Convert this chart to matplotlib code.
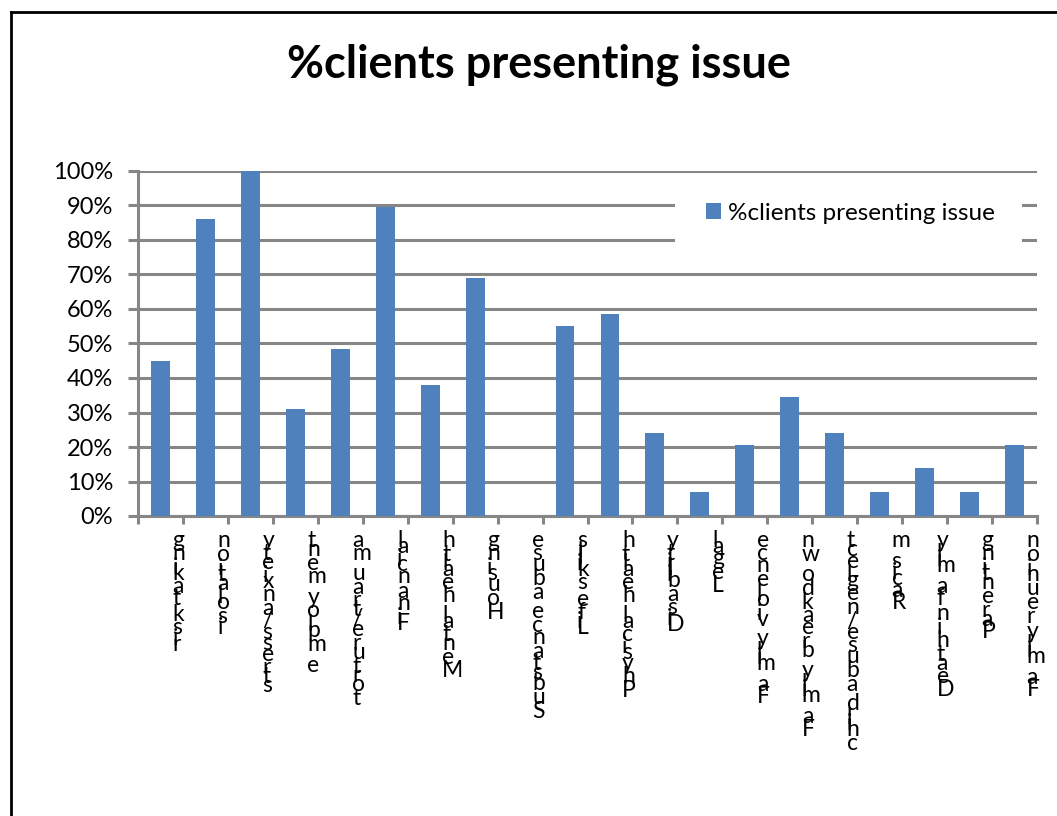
import numpy as np
import matplotlib
matplotlib.use("Agg")
import matplotlib.pyplot as plt
from matplotlib.patches import Rectangle
from matplotlib.font_manager import FontProperties, findfont, get_font

# data
issues = ["risk taking", "isolation", "stress/anxiety", "employment",
          "torture/trauma", "Financial", "Mental health", "Housing",
          "Substance abuse", "Life skills", "Physical health", "Disability",
          "Legal", "Family violence", "Family breakdown",
          "child abuse/neglect", "Racism", "Death in family", "Parenting",
          "Family reunion"]
pct_clients = [0.448, 0.862, 1.0, 0.310, 0.483, 0.897, 0.379, 0.690, 0.0,
               0.552, 0.586, 0.241, 0.069, 0.207, 0.345, 0.241, 0.069,
               0.138, 0.069, 0.207]
y_ticks = [0, 0.1, 0.2, 0.3, 0.4, 0.5, 0.6, 0.7, 0.8, 0.9, 1.0]
y_labels = ["0%", "10%", "20%", "30%", "40%", "50%", "60%", "70%", "80%",
            "90%", "100%"]
series_name = "%clients presenting issue"

FONT = "Lato"
BAR = "#4f81bd"
GRID = "#868686"
DPI = 100
px = 72 / DPI  # points per pixel

fig = plt.figure(figsize=(10.57, 8.16), dpi=DPI)
ax = fig.add_axes([138 / 1057, 1 - 516 / 816, 899 / 1057, 345 / 816])

x = np.arange(len(issues))
ax.bar(x, pct_clients, width=0.42, color=BAR, zorder=3,
       label=series_name)
ax.set_xlim(-0.5, len(issues) - 0.5)
ax.set_ylim(0, 1)

ax.set_yticks(y_ticks)
ax.set_yticklabels(y_labels, fontfamily=FONT, fontsize=17)
ax.set_xticks(np.arange(len(issues) + 1) - 0.5)
ax.set_xticklabels([])
ax.tick_params(axis="y", length=7, width=2.2, color=GRID, pad=11)
ax.tick_params(axis="x", length=5.5, width=2.2, color=GRID)
ax.yaxis.grid(True, color=GRID, linewidth=2.2, zorder=0)
ax.set_axisbelow(True)
for side in ["top", "right"]:
    ax.spines[side].set_visible(False)
for side in ["left", "bottom"]:
    ax.spines[side].set_color(GRID)
    ax.spines[side].set_linewidth(2.2)

# category labels: upright glyphs stacked top-down, last letter first
lab_size = 16.5
stretch = 1.1
font = get_font(findfont(FontProperties(family=FONT)))
font.set_size(lab_size, DPI)
trans = ax.get_xaxis_transform()
for i, name in enumerate(issues):
    adv = [font.load_char(ord(c)).linearHoriAdvance / 65536 * stretch
           for c in name]
    cum = np.cumsum(adv)
    total = cum[-1]
    for k, ch in enumerate(name):
        if ch == " ":
            continue
        dy = 14 + (total - cum[k])
        ax.annotate(ch, xy=(i, 0), xycoords=trans,
                    xytext=(12 * px, -dy * px), textcoords="offset points",
                    ha="left", va="top", fontfamily=FONT, fontsize=lab_size,
                    annotation_clip=False)

# white legend area that hides the gridlines behind it
ax.add_patch(Rectangle((0.597, 0.76), 0.386, 0.195, transform=ax.transAxes,
                       facecolor="white", edgecolor="none", zorder=2))
ax.legend(loc="center left", bbox_to_anchor=(0.632, 0.878),
          prop={"family": FONT, "size": 17.5}, frameon=False,
          borderpad=0, borderaxespad=0, handlelength=0.62,
          handleheight=0.62, handletextpad=0.28)

fig.text(539 / 1057, 1 - 78 / 816, series_name, ha="center",
         va="baseline", fontfamily=FONT, fontweight="bold", fontsize=32.5)

# outer chart frame (only top and left edges fall inside the image)
fig.add_artist(plt.Line2D([11 / 1057, 11 / 1057], [0, 1 - 12 / 816],
                          transform=fig.transFigure, color="black", lw=2))
fig.add_artist(plt.Line2D([11 / 1057, 1], [1 - 12 / 816, 1 - 12 / 816],
                          transform=fig.transFigure, color="black", lw=2))

fig.savefig("out.png", dpi=DPI)
